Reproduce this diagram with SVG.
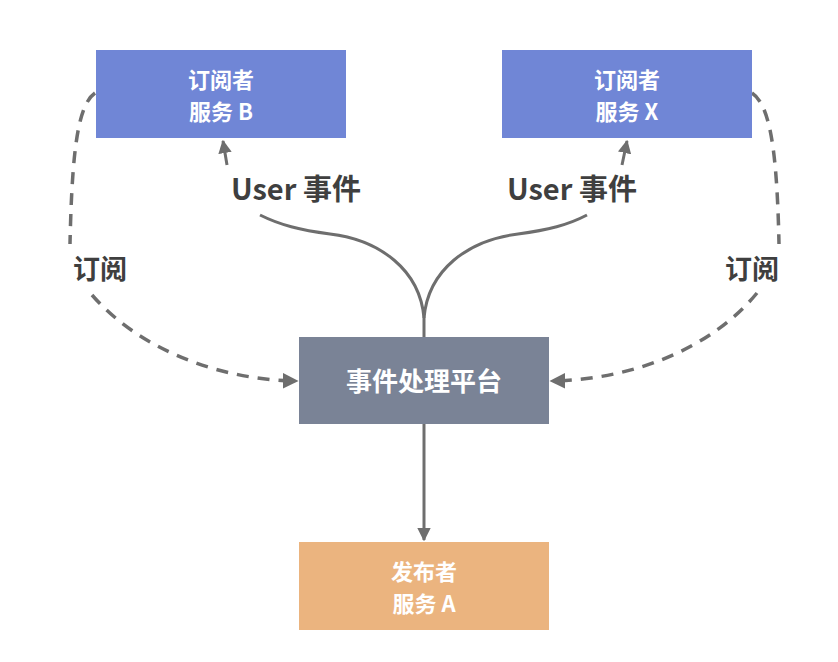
<svg xmlns="http://www.w3.org/2000/svg" width="838" height="662" viewBox="0 0 838 662">
<defs>
<style>
.box{stroke:none}
.t{font-family:"Noto Sans CJK SC","Noto Sans",sans-serif;font-weight:bold;fill:#ffffff;font-size:22px;text-anchor:middle}
.lbl{font-family:"Noto Sans CJK SC","Noto Sans",sans-serif;font-weight:bold;fill:#3f3f3f;text-anchor:middle}
.ln{fill:none;stroke:#6e6e6e;stroke-width:3}
.ds{fill:none;stroke:#6e6e6e;stroke-width:3.5;stroke-dasharray:12 9}
</style>
<marker id="ah" viewBox="0 0 10 10" refX="9" refY="5" markerWidth="4.5" markerHeight="4.5" orient="auto" markerUnits="strokeWidth">
<path d="M0,0 L10,5 L0,10 z" fill="#6e6e6e"/>
</marker>
</defs>
<rect width="838" height="662" fill="#ffffff"/>
<g id="connectors">
<path class="ln" d="M424,337 L424,318 C420,270 380,240 330,234 C300,230 280,225 260,215"/>
<path class="ln" d="M227,165 L223,141" marker-end="url(#ah)"/>
<path class="ln" d="M424,318 C428,270 468,240 518,234 C548,230 568,225 587,215"/>
<path class="ln" d="M622,165 L627,141" marker-end="url(#ah)"/>
<path class="ln" d="M424,424 L424,540" marker-end="url(#ah)"/>
<path class="ds" d="M95,93 C78,105 72,150 70,244"/>
<path class="ds" d="M92,295 C140,350 220,380 297,381" marker-end="url(#ah)"/>
<path class="ds" d="M752,93 C770,105 777,150 779,244"/>
<path class="ds" d="M757,293 C710,350 630,380 551,381" marker-end="url(#ah)"/>
<text class="lbl" x="296" y="200" font-size="29">User 事件</text>
<text class="lbl" x="572" y="200" font-size="29">User 事件</text>
<text class="lbl" x="100" y="279" font-size="27">订阅</text>
<text class="lbl" x="752" y="279" font-size="27">订阅</text>
</g>
<g id="subB">
<rect class="box" x="96" y="50" width="250" height="88" fill="#7086d6"/>
<text class="t" x="221" y="88">订阅者<tspan x="221" dy="32">服务 B</tspan></text>
</g>
<g id="subX">
<rect class="box" x="502" y="50" width="250" height="88" fill="#7086d6"/>
<text class="t" x="627" y="88">订阅者<tspan x="627" dy="32">服务 X</tspan></text>
</g>
<g id="platform">
<rect class="box" x="299" y="337" width="250" height="87" fill="#7a8396"/>
<text class="t" x="424" y="391" style="font-size:26px">事件处理平台</text>
</g>
<g id="pubA">
<rect class="box" x="299" y="542" width="250" height="88" fill="#ebb47f"/>
<text class="t" x="424" y="580">发布者<tspan x="424" dy="32">服务 A</tspan></text>
</g>
</svg>
